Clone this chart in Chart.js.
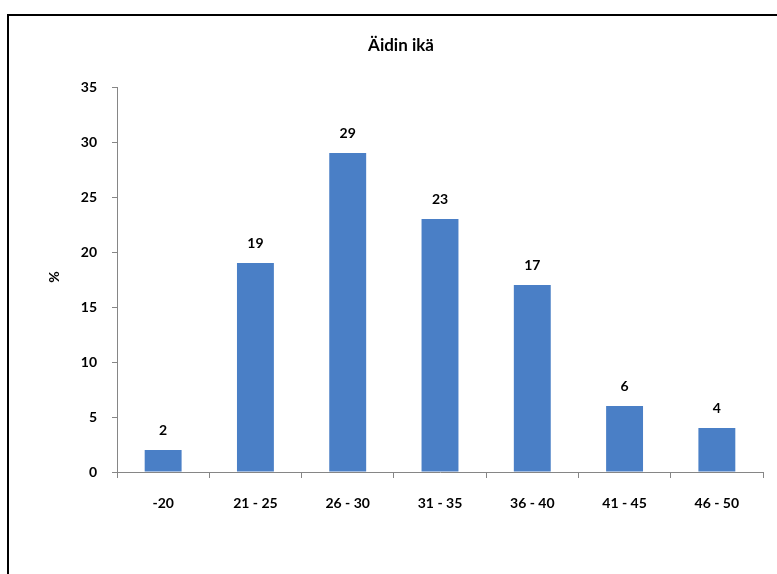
<!DOCTYPE html>
<html>
<head>
<meta charset="utf-8">
<script src="https://cdn.jsdelivr.net/npm/chart.js@4"></script>
<style>
  html, body { margin: 0; padding: 0; background: #fff; }
  #wrap { width: 777px; height: 574px; position: relative; }
</style>
</head>
<body>
<div id="wrap"><canvas id="c" width="777" height="574"></canvas></div>
<script>
const categories = ['-20', '21 - 25', '26 - 30', '31 - 35', '36 - 40', '41 - 45', '46 - 50'];
const shares = [2, 19, 29, 23, 17, 6, 4];
const yTicks = [0, 5, 10, 15, 20, 25, 30, 35];
const chartTitle = 'Äidin ikä';
const yTitle = '%';

const FONT = 'Lato, "Open Sans", sans-serif';

// Frame, title, axis title and value labels
const decor = {
  id: 'decor',
  beforeDraw(chart) {
    const ctx = chart.ctx;
    ctx.save();
    ctx.fillStyle = '#fff';
    ctx.fillRect(0, 0, chart.width, chart.height);
    ctx.strokeStyle = '#000';
    ctx.lineWidth = 2;
    ctx.strokeRect(8, 15, chart.width + 20, chart.height + 20);
    ctx.restore();
  },
  afterDatasetsDraw(chart) {
    const ctx = chart.ctx;
    ctx.save();
    ctx.fillStyle = '#000';
    ctx.textAlign = 'center';
    ctx.textBaseline = 'middle';
    ctx.font = 'bold 17px ' + FONT;
    ctx.fillText(chartTitle, 401, 46);

    ctx.save();
    ctx.translate(54, 277);
    ctx.rotate(-Math.PI / 2);
    ctx.font = 'bold 14px ' + FONT;
    ctx.fillText(yTitle, 0, 0);
    ctx.restore();

    ctx.font = 'bold 14px ' + FONT;
    const meta = chart.getDatasetMeta(0);
    meta.data.forEach((bar, i) => {
      ctx.fillText(String(shares[i]), bar.x, bar.y - 20);
    });
    ctx.restore();
  }
};

new Chart(document.getElementById('c'), {
  type: 'bar',
  data: {
    labels: categories,
    datasets: [{
      data: shares,
      backgroundColor: '#4a7fc6',
      borderWidth: 0,
      barPercentage: 0.4,
      categoryPercentage: 1
    }]
  },
  options: {
    responsive: false,
    animation: false,
    devicePixelRatio: 1,
    layout: { padding: { left: 0, top: 87, right: 14, bottom: 0 } },
    plugins: {
      legend: { display: false },
      title: { display: false },
      tooltip: { enabled: false }
    },
    scales: {
      x: {
        offset: true,
        grid: {
          display: true,
          offset: true,
          drawOnChartArea: false,
          drawTicks: true,
          tickLength: 6,
          color: '#868686'
        },
        border: { display: true, color: '#868686', width: 1 },
        ticks: {
          color: '#000',
          padding: 17,
          maxRotation: 0,
          font: { family: FONT, size: 14, weight: 'bold' }
        },
        afterFit(scale) { scale.height = 102; }
      },
      y: {
        min: 0,
        max: 35,
        afterBuildTicks(scale) { scale.ticks = yTicks.map(v => ({ value: v })); },
        grid: {
          display: true,
          drawOnChartArea: false,
          drawTicks: true,
          tickLength: 5,
          color: '#868686'
        },
        border: { display: true, color: '#868686', width: 1 },
        ticks: {
          color: '#000',
          padding: 15,
          font: { family: FONT, size: 14, weight: 'bold' }
        },
        afterFit(scale) { scale.width = 117; }
      }
    }
  },
  plugins: [decor]
});
</script>
</body>
</html>
